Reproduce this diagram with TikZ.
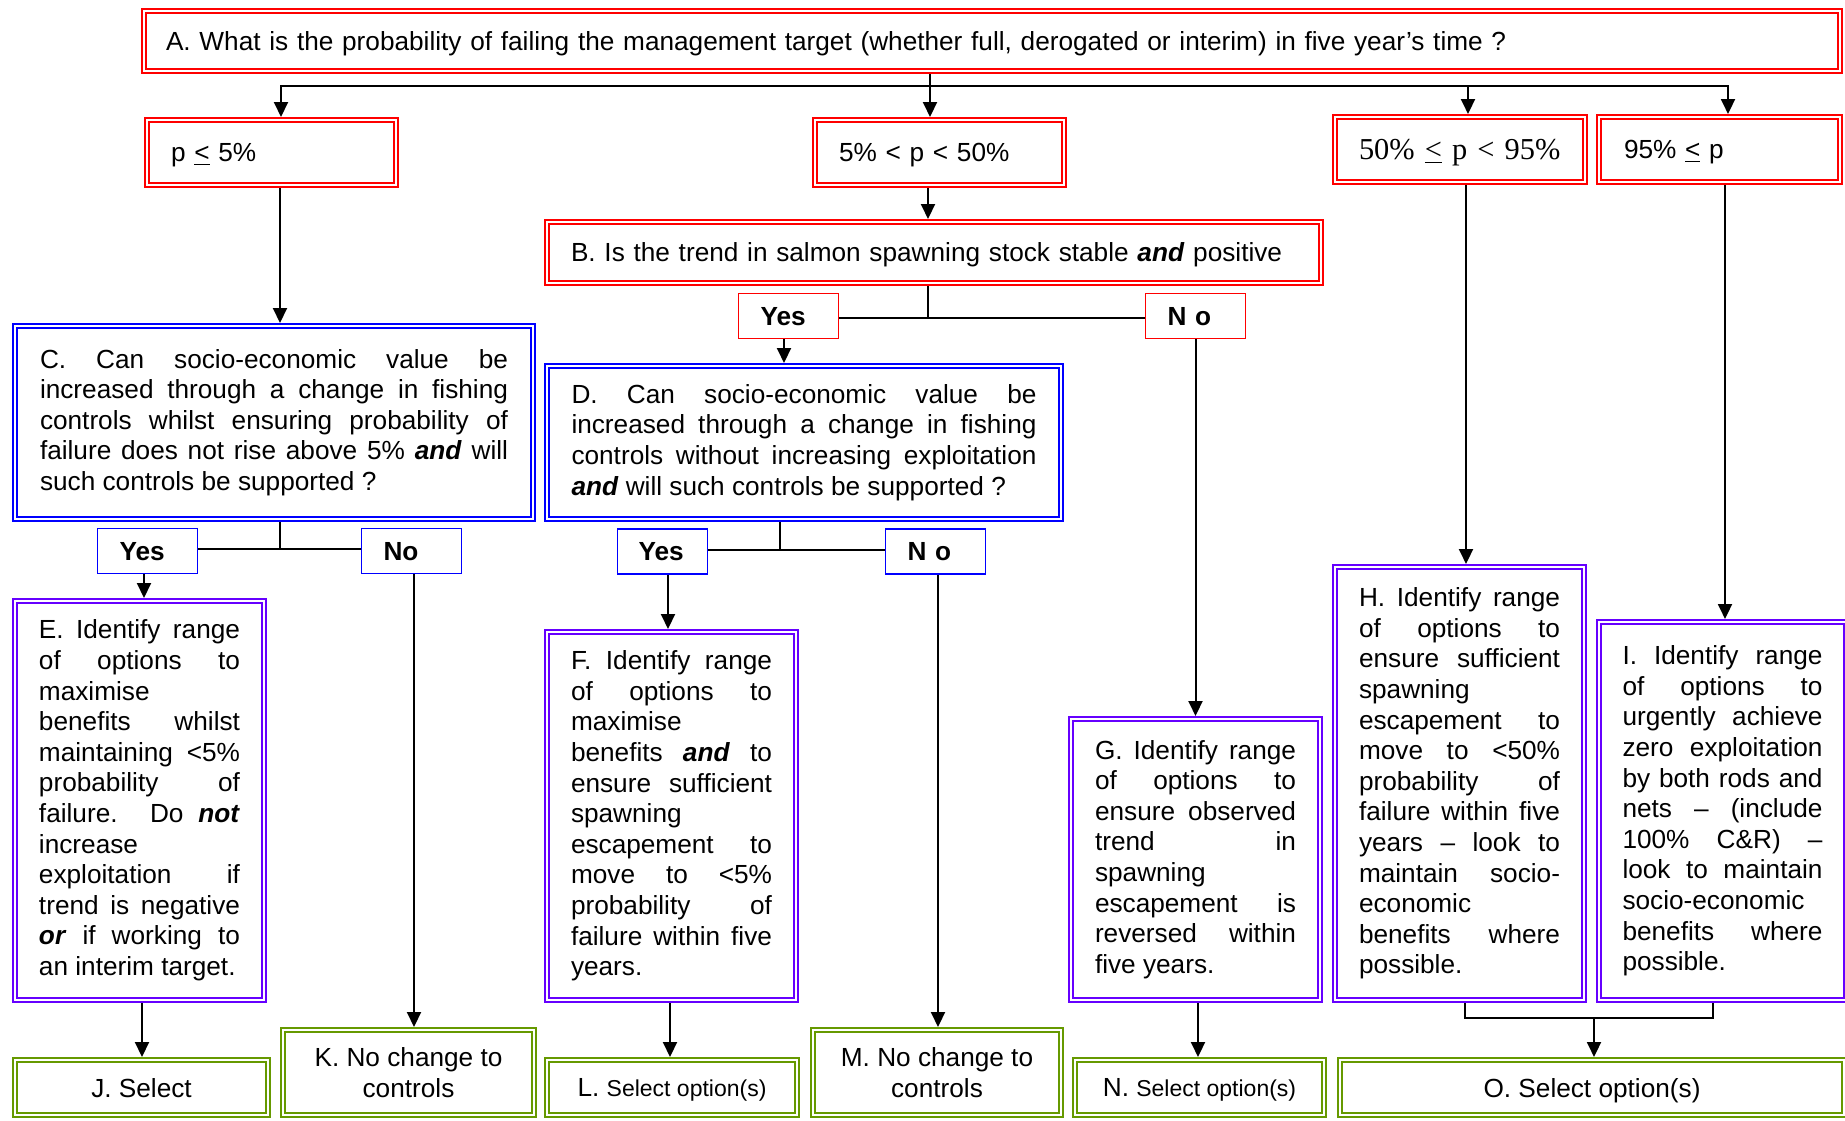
\documentclass[tikz,border=0pt]{standalone}
\usepackage{fontspec}
\setmainfont{Liberation Sans}
\newfontfamily\timesfont{Liberation Serif}
\usetikzlibrary{arrows.meta}
\definecolor{bred}{RGB}{255,0,0}
\definecolor{bblue}{RGB}{0,0,255}
\definecolor{bpurple}{RGB}{102,0,255}
\definecolor{bgreen}{RGB}{102,153,0}
\tolerance=10000 \hbadness=10000 \hfuzz=20pt \hyphenpenalty=10000 \exhyphenpenalty=10000
\newcommand{\bodyfont}{\fontsize{13.1pt}{15.3pt}\selectfont}
\newcommand{\smallsel}{\fontsize{11.5pt}{14pt}\selectfont}
\newcommand{\bi}[1]{\textbf{\textit{#1}}}
\begin{document}
\begin{tikzpicture}[x=0.5pt,y=-0.5pt,
  dbox/.style={draw=#1, double=white, line width=1pt, double distance=1pt, outer sep=1.5pt, inner sep=0pt, font=\bodyfont, anchor=center},
  oneline/.style={text depth=0pt},
  ynbox/.style={draw=#1, line width=0.75pt, inner sep=0pt, outer sep=0.375pt, font=\bodyfont\bfseries, align=left, minimum height=22.5pt, text depth=0pt},
  conn/.style={line width=1pt, -{Triangle[length=7.5pt,width=7pt]}},
  ln/.style={line width=1pt}]
\useasboundingbox (0,0) rectangle (1845,1120);

% ---- top question
\node[dbox=bred, oneline, minimum width=848pt, minimum height=30pt, text width=826pt, align=left] (A) at (992,41)
  {A. What is the probability of failing the management target (whether full, derogated or interim) in five year’s time ?};

% ---- probability classes
\node[dbox=bred, oneline, minimum width=124.5pt, minimum height=32.5pt, text width=100.5pt, align=left] (p5) at (271.5,152.5) {p \underline{<} 5\%};
\node[dbox=bred, oneline, minimum width=124.5pt, minimum height=32.5pt, text width=100.5pt, align=left] (p50) at (939.5,152.5) {5\% < p < 50\%};
\node[dbox=bred, oneline, minimum width=125pt, minimum height=32.5pt, text width=101pt, align=left, font=\timesfont\fontsize{15.2pt}{18pt}\selectfont] (p95a) at (1460,149.5) {\mbox{50\% \underline{<} p < 95\%}};
\node[dbox=bred, oneline, minimum width=120.5pt, minimum height=32.5pt, text width=95.5pt, align=left] (p95b) at (1719.5,149.5) {95\% \underline{<} p};

% ---- B
\node[dbox=bred, oneline, minimum width=387pt, minimum height=30.5pt, text width=363pt, align=left] (B) at (934,252.5)
  {B. Is the trend in salmon spawning stock stable \bi{and} positive};

% ---- C and D
\node[dbox=bblue, minimum width=259pt, minimum height=96.5pt, text width=234pt, align=justify] (C) at (274,422.5)
  {C. Can socio-economic value be\linebreak
   increased through a change in fishing\linebreak
   controls whilst ensuring probability of\linebreak
   failure does not rise above 5\% \bi{and} will\linebreak
   such controls be supported ?};
\node[dbox=bblue, minimum width=257pt, minimum height=76.5pt, text width=232.5pt, align=justify] (D) at (804,442.5)
  {D. Can socio-economic value be\linebreak
   increased through a change in fishing\linebreak
   controls without increasing exploitation\linebreak
   \bi{and} will such controls be supported ?};

% ---- yes / no boxes
\node[ynbox=bred, minimum width=50pt, text width=28pt] (yb) at (788.5,316) {Yes};
\node[ynbox=bred, minimum width=50pt, text width=28pt] (nb) at (1195.5,316) {N o};
\node[ynbox=bblue, minimum width=50pt, text width=28pt] (yc) at (147.5,551) {Yes};
\node[ynbox=bblue, minimum width=50pt, text width=28pt] (nc) at (411.5,551) {No};
\node[ynbox=bblue, minimum width=45pt, text width=24pt] (yd) at (662.5,551.5) {Yes};
\node[ynbox=bblue, minimum width=50pt, text width=28pt] (nd) at (935.5,551.5) {N o};

% ---- action boxes
\node[dbox=bpurple, minimum width=124.5pt, minimum height=199.5pt, text width=100.5pt, align=justify] (E) at (139.5,800.5)
  {E. Identify range\linebreak
   of options to\linebreak
   maximise\linebreak
   benefits whilst\linebreak
   maintaining <5\%\linebreak
   probability of\linebreak
   failure. Do \bi{not}\linebreak
   increase\linebreak
   exploitation if\linebreak
   trend is negative\linebreak
   \bi{or} if working to\linebreak
   an interim target.};
\node[dbox=bpurple, minimum width=124.5pt, minimum height=184pt, text width=100.5pt, align=justify] (F) at (671.5,816)
  {F. Identify range\linebreak
   of options to\linebreak
   maximise\linebreak
   benefits \bi{and} to\linebreak
   ensure sufficient\linebreak
   spawning\linebreak
   escapement to\linebreak
   move to <5\%\linebreak
   probability of\linebreak
   failure within five\linebreak
   years.};
\node[dbox=bpurple, minimum width=124.5pt, minimum height=140.5pt, text width=100.5pt, align=justify] (G) at (1195.5,859.5)
  {G. Identify range\linebreak
   of options to\linebreak
   ensure observed\linebreak
   trend in\linebreak
   spawning\linebreak
   escapement is\linebreak
   reversed within\linebreak
   five years.};
\node[dbox=bpurple, minimum width=124.5pt, minimum height=216.5pt, text width=100.5pt, align=justify] (H) at (1459.5,783.5)
  {H. Identify range\linebreak
   of options to\linebreak
   ensure sufficient\linebreak
   spawning\linebreak
   escapement to\linebreak
   move to <50\%\linebreak
   probability of\linebreak
   failure within five\linebreak
   years – look to\linebreak
   maintain socio-\linebreak
   economic\linebreak
   benefits where\linebreak
   possible.};
\node[dbox=bpurple, minimum width=123.5pt, minimum height=189pt, text width=100pt, align=justify] (I) at (1722.5,811)
  {I. Identify range\linebreak
   of options to\linebreak
   urgently achieve\linebreak
   zero exploitation\linebreak
   by both rods and\linebreak
   nets – (include\linebreak
   100\% C\&R) –\linebreak
   look to maintain\linebreak
   socio-economic\linebreak
   benefits where\linebreak
   possible.};

% ---- outcome boxes
\node[dbox=bgreen, oneline, minimum width=126.5pt, minimum height=27.5pt, align=center] (J) at (141.5,1087.5) {J. Select};
\node[dbox=bgreen, oneline, minimum width=125.5pt, minimum height=42.5pt, align=center] (K) at (408.5,1072.5) {K. No change to\\controls};
\node[dbox=bgreen, oneline, minimum width=125pt, minimum height=27.5pt, align=center] (L) at (672,1087.5) {L. {\smallsel Select option(s)}};
\node[dbox=bgreen, oneline, minimum width=124pt, minimum height=42.5pt, align=center] (M) at (937,1072.5) {M. No change to\\controls};
\node[dbox=bgreen, oneline, minimum width=124.5pt, minimum height=27.5pt, align=center] (N) at (1199.5,1087.5) {N. {\smallsel Select option(s)}};
\node[dbox=bgreen, oneline, minimum width=252pt, minimum height=27.5pt, align=center] (O) at (1592,1087.5) {O. Select option(s)};

% ---- junction coordinates
\coordinate (jA) at (930,86);
\coordinate (jL) at (281,86);
\coordinate (jR1) at (1468,86);
\coordinate (jR2) at (1728,86);
\coordinate (jB) at (928,318);
\coordinate (jC) at (280,549);
\coordinate (jD) at (780,550);
\coordinate (xyb) at (784,0);
\coordinate (xe) at (144,0);
\coordinate (xk) at (414,0);
\coordinate (xf) at (668,0);
\coordinate (xm) at (938,0);
\coordinate (xj) at (142,0);
\coordinate (xl) at (670,0);
\coordinate (xn) at (1198,0);
\coordinate (xh) at (1466,0);
\coordinate (xi) at (1725,0);
\coordinate (jH) at (1465,1018);
\coordinate (jI) at (1713,1018);
\coordinate (jO) at (1594,1018);

% ---- connectors from A
\draw[ln] (A.south -| jA) -- (jA);
\draw[conn] (jA) -- (jA |- p50.north);
\draw[conn] (jA) -| (p5.north -| jL);
\draw[conn] (jA) -| (p95b.north -| jR2);
\draw[conn] (jR1) -- (jR1 |- p95a.north);

% ---- left branch
\draw[conn] (p5.south -| jC) -- (C.north -| jC);
\draw[ln] (C.south -| jC) -- (jC);
\draw[ln] (yc.east |- jC) -- (nc.west |- jC);
\draw[conn] (yc.south -| xe) -- (E.north -| xe);
\draw[conn] (nc.south -| xk) -- (K.north -| xk);
\draw[conn] (E.south -| xj) -- (J.north -| xj);

% ---- middle branch
\draw[conn] (p50.south -| jB) -- (B.north -| jB);
\draw[ln] (B.south -| jB) -- (jB);
\draw[ln] (yb.east |- jB) -- (nb.west |- jB);
\draw[conn] (yb.south -| xyb) -- (D.north -| xyb);
\draw[conn] (nb.south) -- (nb.south |- G.north);
\draw[ln] (D.south -| jD) -- (jD);
\draw[ln] (yd.east |- jD) -- (nd.west |- jD);
\draw[conn] (yd.south -| xf) -- (F.north -| xf);
\draw[conn] (nd.south -| xm) -- (M.north -| xm);
\draw[conn] (F.south -| xl) -- (L.north -| xl);
\draw[conn] (G.south -| xn) -- (N.north -| xn);

% ---- right branch
\draw[conn] (p95a.south -| xh) -- (H.north -| xh);
\draw[conn] (p95b.south -| xi) -- (I.north -| xi);
\draw[ln] (H.south -| jH) |- (jI) -- (I.south -| jI);
\draw[conn] (jO) -- (O.north -| jO);
\end{tikzpicture}
\end{document}
